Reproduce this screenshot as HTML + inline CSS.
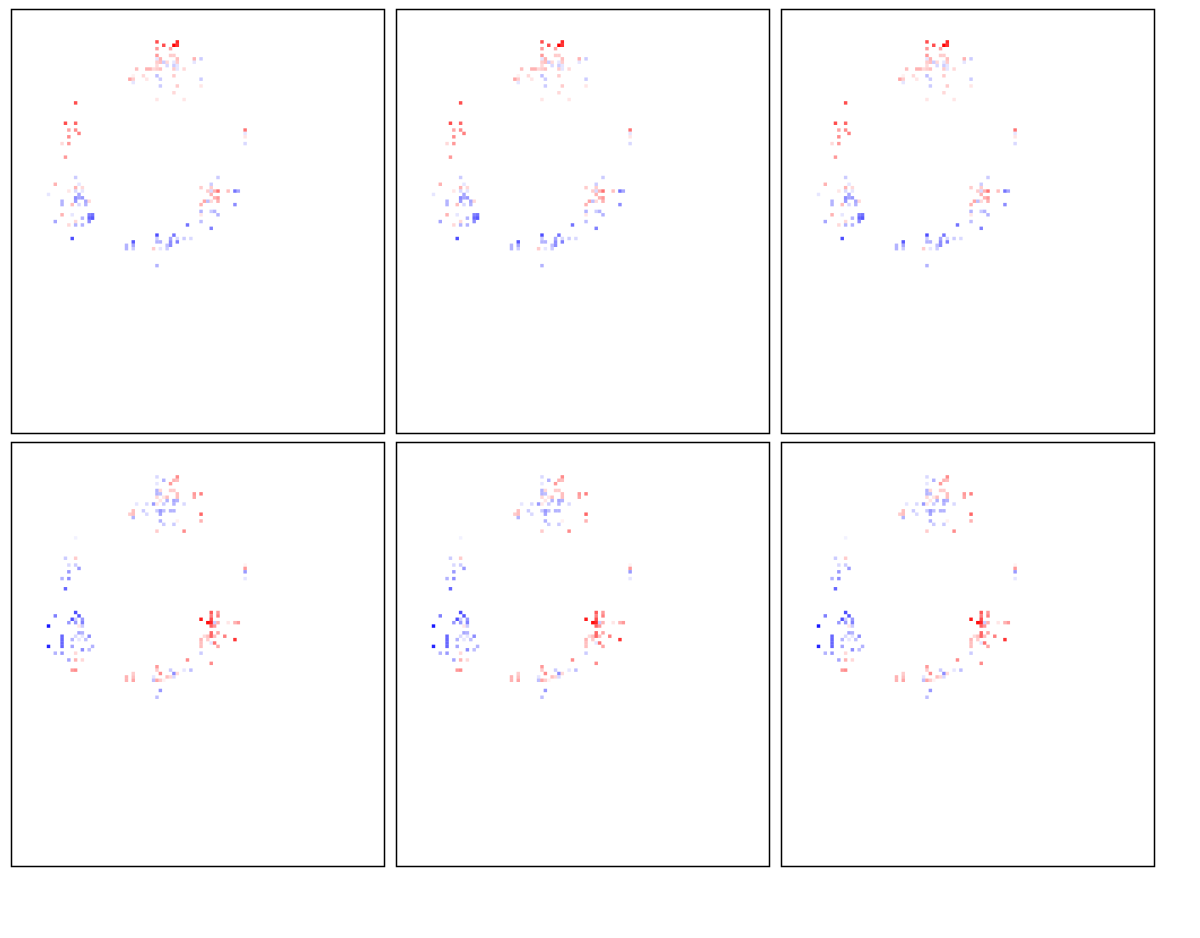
<!DOCTYPE html>
<html><head><meta charset="utf-8"><style>
html,body{margin:0;padding:0;background:#fff;}
svg{display:block;font-family:"Liberation Sans",sans-serif;}
</style></head><body>
<svg id="chart" width="1200" height="938" viewBox="0 0 1200 938" xmlns="http://www.w3.org/2000/svg">
<rect width="1200" height="938" fill="#fff"/>
</svg>
<script>
// Cell data for top row panels: [gridX, gridY, value] (value >0 red, <0 blue)
const topCells = [
[34,3,0.7],[40,3,0.85],[36,4,0.7],[39,4,1.0],[40,4,0.8],[34,5,0.4],[38,5,0.35],
[34,7,0.4],[38,7,0.2],[39,7,0.2],[35,8,0.3],[34,8,-0.1],[40,8,0.25],[45,8,0.3],[47,8,-0.2],
[34,9,0.2],[35,9,0.25],[36,9,-0.2],[37,9,0.15],[39,9,-0.1],[40,9,0.2],[45,9,-0.1],
[34,10,0.15],[37,10,-0.15],[39,10,-0.2],[40,10,-0.1],
[28,11,0.25],[31,11,0.3],[32,11,0.3],[33,11,0.15],[34,11,0.2],[35,11,0.25],[39,11,0.2],[40,11,-0.1],[42,11,0.15],
[27,13,0.05],[30,13,0.15],[34,13,-0.25],[39,13,0.2],
[26,14,0.35],[27,14,0.2],[31,14,0.1],[35,14,-0.2],[47,14,-0.2],[27,15,-0.1],
[35,16,-0.2],[40,16,0.2],[47,16,0.1],[39,18,0.15],[34,20,0.1],[42,20,0.1],
[10,21,0.7],[7,27,0.7],[10,27,0.6],[8,29,0.35],[10,29,0.45],[11,30,0.5],[8,31,0.45],[6,33,0.15],[8,33,0.4],[7,37,0.4],
[60,29,0.55],[60,30,-0.1],[60,31,0.1],[60,33,-0.15],
[10,43,-0.2],[4,45,0.3],[11,45,-0.1],[10,46,0.3],[12,46,0.15],[2,48,-0.1],[8,47,0.1],[10,47,-0.15],[12,47,-0.1],
[11,48,-0.35],[10,49,-0.45],[11,49,-0.35],[12,49,-0.4],
[6,50,-0.3],[10,50,-0.4],[13,50,-0.35],[14,50,0.15],[6,51,-0.3],[9,51,0.25],[11,51,-0.15],[13,51,-0.3],
[6,54,0.3],[9,54,-0.1],[14,54,-0.5],[15,54,-0.55],[12,55,-0.3],[14,55,-0.6],[15,55,-0.65],
[4,56,-0.35],[10,56,0.15],[14,56,-0.45],[8,57,0.15],[10,57,-0.3],[12,57,-0.3],[9,61,-0.7],
[52,43,-0.2],[50,45,-0.2],[47,46,0.2],[50,46,0.2],
[49,47,0.2],[50,47,-0.15],[51,47,0.3],[52,47,0.55],[55,47,0.25],[57,47,-0.55],[58,47,-0.35],
[50,48,0.3],[51,49,0.3],[52,49,0.4],[48,50,0.35],[49,50,-0.25],[50,50,0.15],[52,50,0.3],
[47,51,0.3],[57,51,-0.45],[47,53,-0.3],[50,53,-0.2],[51,53,-0.3],[47,54,0.1],[52,54,-0.3],
[47,56,-0.25],[43,57,-0.55],[50,58,-0.5],
[34,60,-0.7],[39,60,-0.55],[34,61,-0.2],[38,61,-0.35],[40,61,-0.15],[42,61,-0.2],[44,61,-0.15],
[27,62,-0.65],[34,62,-0.3],[35,62,-0.3],[38,62,-0.45],[40,62,-0.5],
[25,63,-0.3],[27,63,-0.35],[37,63,-0.25],[38,63,-0.45],
[25,64,-0.3],[27,64,-0.2],[33,64,0.2],[35,64,-0.1],[37,64,-0.2],[34,69,-0.3]
];
// Cell data for bottom row panels
const bottomCells = [
[34,3,-0.15],[40,3,0.45],[36,4,-0.3],[39,4,0.3],[40,4,0.25],[34,5,-0.1],[38,5,0.4],
[34,7,-0.3],[35,7,0.15],[38,7,0.2],[39,7,0.2],
[34,8,-0.3],[35,8,-0.25],[40,8,0.25],[45,8,0.4],[47,8,0.5],
[34,9,0.15],[36,9,0.1],[37,9,0.25],[40,9,0.25],[45,9,0.35],
[35,10,0.1],[37,10,-0.3],[39,10,-0.35],[40,10,-0.3],
[28,11,-0.1],[31,11,-0.15],[33,11,-0.4],[34,11,0.1],[36,11,-0.2],[39,11,-0.3],[42,11,-0.15],
[27,13,0.25],[30,13,-0.2],[34,13,-0.2],[35,13,-0.4],[36,13,-0.25],[38,13,-0.3],[39,13,-0.3],[47,14,0.6],
[26,14,0.2],[27,14,0.25],[31,14,-0.15],[35,14,-0.35],[27,15,-0.3],
[35,16,-0.3],[40,16,0.05],[47,16,0.3],[36,17,-0.2],[39,17,-0.2],[34,19,0.2],[42,19,0.45],
[10,21,-0.05],[7,27,-0.2],[10,27,0.2],[8,29,-0.15],[10,29,-0.2],[11,30,-0.4],[8,31,-0.4],[6,33,-0.3],[8,33,-0.45],[7,36,-0.6],
[60,29,0.05],[60,30,0.4],[60,31,-0.4],[60,33,-0.1],
[10,43,-0.7],[4,44,-0.5],[11,44,-0.65],[9,45,-0.7],[10,45,-0.2],[12,45,-0.4],
[8,46,-0.4],[10,46,-0.4],[12,46,-0.5],[2,47,-0.9],[11,47,0.1],[12,47,-0.2],
[11,49,-0.35],[12,49,-0.3],[6,50,-0.6],[10,50,-0.15],[12,50,-0.1],[14,50,-0.45],
[6,51,-0.6],[9,51,-0.3],[11,51,-0.1],[13,51,-0.25],[6,52,-0.6],
[2,53,-0.85],[6,53,-0.6],[9,53,-0.35],[15,53,-0.3],[12,54,-0.45],[14,54,-0.25],
[4,55,-0.3],[6,55,-0.4],[10,55,0.15],[8,57,-0.35],[10,57,0.3],[12,57,0.15],[9,60,0.4],[10,60,0.45],
[50,43,0.65],[52,43,0.4],[50,44,0.5],[52,44,0.5],[47,45,0.9],[50,45,0.7],
[49,46,0.95],[50,46,0.85],[51,46,-0.2],[52,46,0.3],[55,46,0.1],[57,46,0.3],[58,46,0.4],
[50,47,0.6],[51,47,0.4],[50,49,0.6],[52,49,0.35],
[48,50,0.15],[49,50,0.25],[50,50,0.6],[51,50,0.25],[54,50,0.5],
[47,51,0.3],[49,51,0.2],[57,51,0.8],[47,52,0.25],[50,52,-0.1],[51,52,0.55],[47,53,0.25],[52,53,0.35],
[47,55,-0.2],[43,57,0.45],[50,58,0.45],
[34,59,0.4],[34,60,0.2],[38,60,-0.2],[42,60,-0.1],[44,60,-0.25],
[27,61,0.2],[35,61,0.45],[39,61,-0.45],[40,61,0.15],
[25,62,0.3],[27,62,0.25],[33,62,-0.1],[37,62,0.25],[38,62,0.15],[39,62,-0.15],
[25,63,0.3],[27,63,0.35],[33,63,-0.25],[34,63,0.35],[35,63,0.2],[36,63,0.05],
[35,66,-0.4],[34,68,-0.25]
];
const colLefts = [12, 397, 782];
const rowTops = [9, 442];
const panelW = 373, panelH = 424, cell = 3.39;
const NS = "http://www.w3.org/2000/svg";
const svg = document.getElementById('chart');
function color(v){
  const t = Math.max(0, Math.min(1, Math.abs(v)));
  const c = Math.round(255*(1-t));
  return v >= 0 ? `rgb(255,${c},${c})` : `rgb(${c},${c},255)`;
}
function xScale(g, left){ return left + 28 + g*cell; }
function yScale(g, top, row){ return top + (row===0?21:23) + g*cell; }
rowTops.forEach((top, r) => {
  const cells = r === 0 ? topCells : bottomCells;
  colLefts.forEach((left, c) => {
    const g = document.createElementNS(NS, 'g');
    
    
    cells.forEach(d => {
      const rect = document.createElementNS(NS, 'rect');
      
      
      rect.setAttribute('x', xScale(d[0], left).toFixed(2));
      rect.setAttribute('y', yScale(d[1], top, r).toFixed(2));
      rect.setAttribute('width', cell + 0.05);
      rect.setAttribute('height', cell + 0.05);
      rect.setAttribute('fill', color(d[2]));
      g.appendChild(rect);
    });
    const frame = document.createElementNS(NS, 'rect');
    
    
    frame.setAttribute('x', left - 0.5);
    frame.setAttribute('y', top + 0.5);
    frame.setAttribute('width', panelW);
    frame.setAttribute('height', panelH);
    frame.setAttribute('fill', 'none');
    frame.setAttribute('stroke', '#000');
    frame.setAttribute('stroke-width', '1.5');
    g.appendChild(frame);
    svg.appendChild(g);
  });
});
</script>
</body></html>
